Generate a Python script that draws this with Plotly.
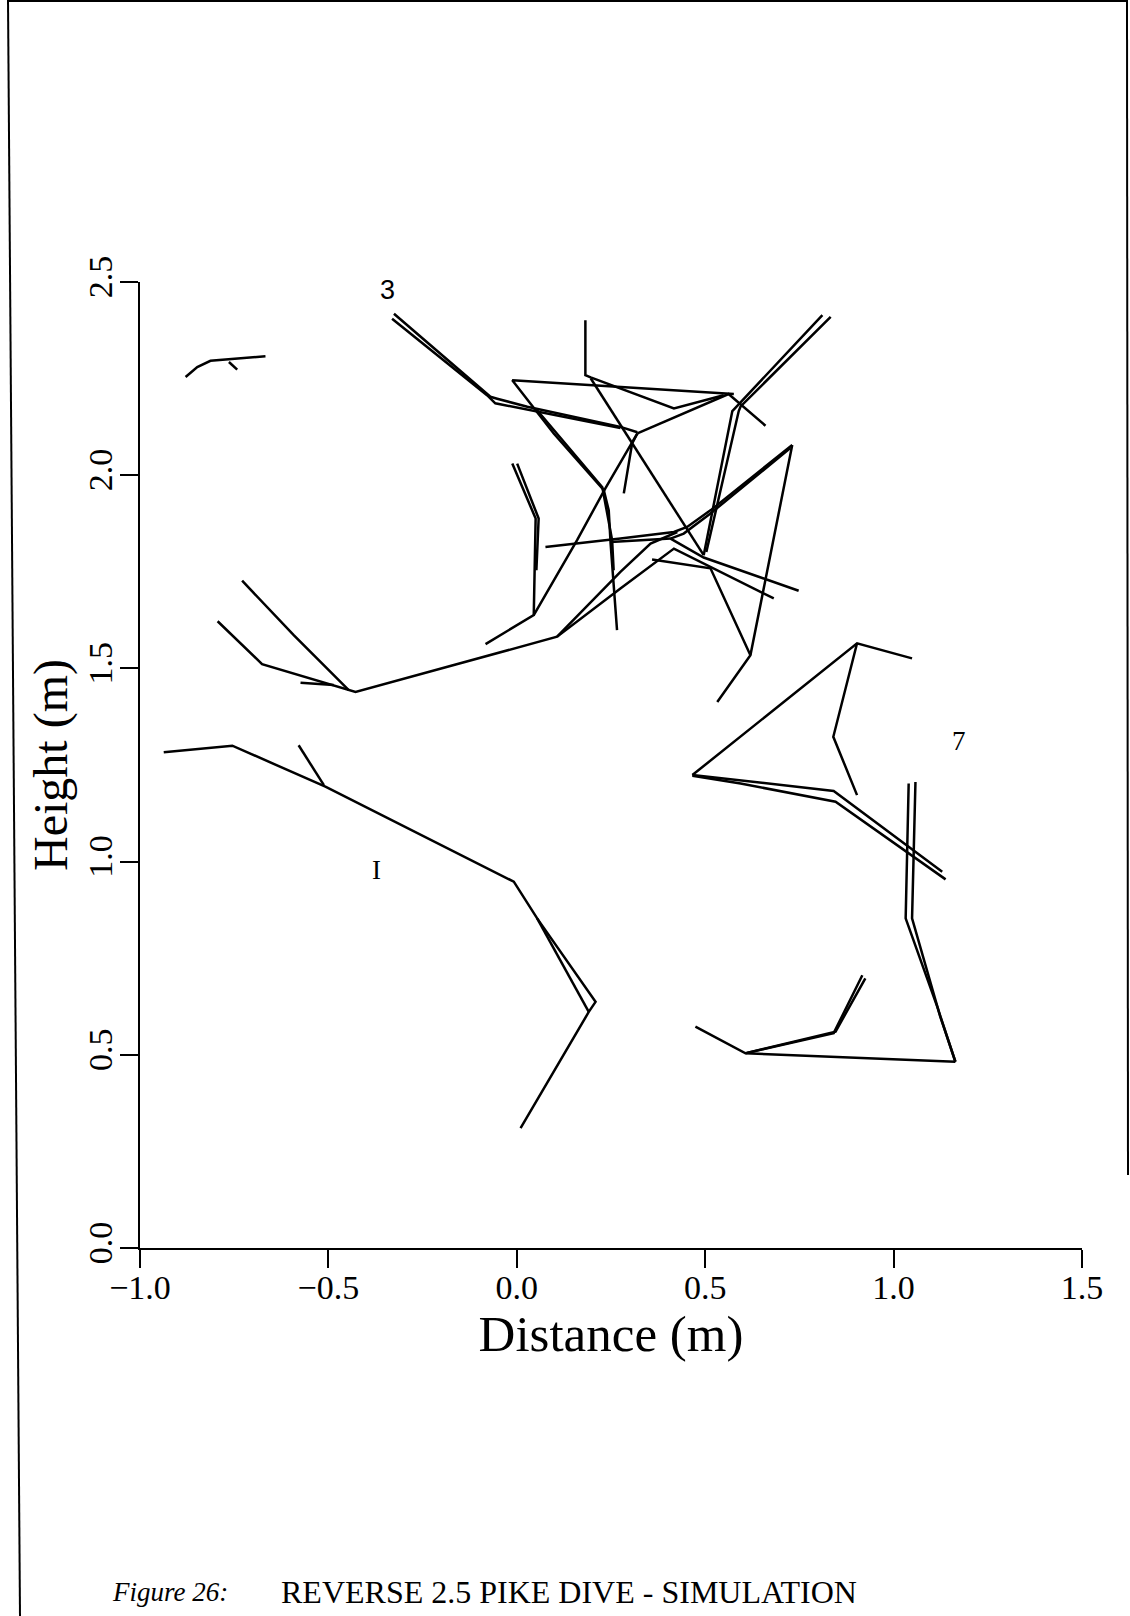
import plotly.graph_objects as go

# ---------------- page / layout geometry ----------------
W, H = 1130, 1616
ML, MR, MT, MB = 140, 48, 282, 368
PW = W - ML - MR
PH = H - MT - MB


def pxx(xp):
    return (xp - ML) / PW


def pxy(yp):
    return (H - MB - yp) / PH


# ---------------- axes ----------------
X_TICKS = [-1.0, -0.5, 0.0, 0.5, 1.0, 1.5]
X_TICK_LABELS = ["\u22121.0", "\u22120.5", "0.0", "0.5", "1.0", "1.5"]
Y_TICKS = [0.0, 0.5, 1.0, 1.5, 2.0, 2.5]
Y_TICK_LABELS = ["0.0", "0.5", "1.0", "1.5", "2.0", "2.5"]

# ---------------- stick-figure segments (metres) ----------------
arc_top_x = [-0.879, -0.848, -0.813, -0.760, -0.667]
arc_top_y = [2.254, 2.280, 2.296, 2.300, 2.308]
arc_tick_x = [-0.764, -0.742]
arc_tick_y = [2.293, 2.273]

f1_body_x = [-0.937, -0.755, -0.508, -0.008, 0.054, 0.209, 0.191, 0.010]
f1_body_y = [1.283, 1.300, 1.194, 0.948, 0.853, 0.637, 0.611, 0.310]
f1_leg_x = [0.054, 0.191]
f1_leg_y = [0.853, 0.611]
f1_arm_x = [-0.579, -0.512]
f1_arm_y = [1.301, 1.198]

f2_leg_x = [-0.729, -0.592, -0.446]
f2_leg_y = [1.727, 1.586, 1.444]
f2_body_x = [-0.794, -0.676, -0.428, 0.107, 0.275, 0.417, 0.682]
f2_body_y = [1.622, 1.511, 1.439, 1.582, 1.707, 1.810, 1.681]
f2_arm_x = [0.107, 0.275, 0.355, 0.426]
f2_arm_y = [1.582, 1.750, 1.823, 1.853]
f2_short_x = [-0.574, -0.486]
f2_short_y = [1.463, 1.457]

f3_leg1_x = [-0.326, -0.070, -0.052, 0.028, 0.275, 0.320]
f3_leg1_y = [2.418, 2.203, 2.198, 2.177, 2.125, 2.111]
f3_leg2_x = [-0.331, -0.079, -0.057, 0.010, 0.275]
f3_leg2_y = [2.405, 2.207, 2.186, 2.173, 2.122]
f3_trunk_x = [0.320, 0.562, 0.660]
f3_trunk_y = [2.108, 2.210, 2.128]
f3_head_x = [0.320, 0.306, 0.284]
f3_head_y = [2.108, 2.082, 1.953]
f3_arm_x = [0.320, 0.235, 0.160, 0.045]
f3_arm_y = [2.108, 1.966, 1.832, 1.638]

f4_top_x = [0.576, -0.012, 0.098, 0.231, 0.244, 0.249, 0.266]
f4_top_y = [2.210, 2.246, 2.108, 1.961, 1.909, 1.823, 1.599]
f4_top2_x = [0.054, 0.227, 0.253, 0.257]
f4_top2_y = [2.168, 1.969, 1.832, 1.754]
f4_vee_x = [0.182, 0.182, 0.196, 0.417, 0.549]
f4_vee_y = [2.401, 2.259, 2.253, 2.173, 2.207]
f4_diag_x = [0.196, 0.496]
f4_diag_y = [2.251, 1.793]

f5_leg1_x = [0.811, 0.585, 0.572, 0.496]
f5_leg1_y = [2.414, 2.181, 2.166, 1.793]
f5_leg2_x = [0.833, 0.594, 0.589, 0.503]
f5_leg2_y = [2.410, 2.178, 2.166, 1.801]
f5_right_x = [0.731, 0.620, 0.532]
f5_right_y = [2.078, 1.534, 1.413]
f5_mid_x = [0.359, 0.514, 0.620]
f5_mid_y = [1.782, 1.759, 1.534]
f5_bar1_x = [0.731, 0.514, 0.452, 0.417, 0.275, 0.076]
f5_bar1_y = [2.078, 1.909, 1.866, 1.853, 1.836, 1.814]
f5_bar2_x = [0.726, 0.514, 0.443, 0.408, 0.249]
f5_bar2_y = [2.070, 1.901, 1.849, 1.836, 1.827]
f5_arm_x = [0.408, 0.496, 0.748]
f5_arm_y = [1.836, 1.787, 1.701]

f6_leg1_x = [-0.012, 0.050, 0.045, -0.083]
f6_leg1_y = [2.030, 1.888, 1.638, 1.563]
f6_leg2_x = [0.001, 0.058, 0.052]
f6_leg2_y = [2.030, 1.888, 1.754]

f7_tri_x = [0.466, 0.903, 1.049]
f7_tri_y = [1.224, 1.565, 1.526]
f7_arm_x = [0.903, 0.840, 0.903]
f7_arm_y = [1.565, 1.323, 1.172]
f7_leg1_x = [0.466, 0.841, 1.129]
f7_leg1_y = [1.224, 1.183, 0.974]
f7_leg2_x = [0.466, 0.594, 0.846, 1.138]
f7_leg2_y = [1.222, 1.202, 1.155, 0.954]

f8_leg1_x = [1.040, 1.032, 1.116, 1.164]
f8_leg1_y = [1.202, 0.853, 0.624, 0.482]
f8_leg2_x = [1.058, 1.049, 1.124, 1.164]
f8_leg2_y = [1.206, 0.853, 0.598, 0.482]
f8_base_x = [1.164, 0.607, 0.474]
f8_base_y = [0.482, 0.504, 0.573]
f8_arm1_x = [0.607, 0.841, 0.917]
f8_arm1_y = [0.504, 0.556, 0.706]
f8_arm2_x = [0.611, 0.846, 0.925]
f8_arm2_y = [0.505, 0.560, 0.698]

SEGMENTS = [
    (arc_top_x, arc_top_y), (arc_tick_x, arc_tick_y),
    (f1_body_x, f1_body_y), (f1_leg_x, f1_leg_y), (f1_arm_x, f1_arm_y),
    (f2_leg_x, f2_leg_y), (f2_body_x, f2_body_y), (f2_arm_x, f2_arm_y),
    (f2_short_x, f2_short_y),
    (f3_leg1_x, f3_leg1_y), (f3_leg2_x, f3_leg2_y), (f3_trunk_x, f3_trunk_y),
    (f3_head_x, f3_head_y), (f3_arm_x, f3_arm_y),
    (f4_top_x, f4_top_y), (f4_top2_x, f4_top2_y), (f4_vee_x, f4_vee_y),
    (f4_diag_x, f4_diag_y),
    (f5_leg1_x, f5_leg1_y), (f5_leg2_x, f5_leg2_y), (f5_right_x, f5_right_y),
    (f5_mid_x, f5_mid_y), (f5_bar1_x, f5_bar1_y), (f5_bar2_x, f5_bar2_y),
    (f5_arm_x, f5_arm_y),
    (f6_leg1_x, f6_leg1_y), (f6_leg2_x, f6_leg2_y),
    (f7_tri_x, f7_tri_y), (f7_arm_x, f7_arm_y), (f7_leg1_x, f7_leg1_y),
    (f7_leg2_x, f7_leg2_y),
    (f8_leg1_x, f8_leg1_y), (f8_leg2_x, f8_leg2_y), (f8_base_x, f8_base_y),
    (f8_arm1_x, f8_arm1_y), (f8_arm2_x, f8_arm2_y),
]

# frame labels
LABEL_TEXT = ["3", "7", "I"]
LABEL_X = [-0.342, 1.173, -0.372]
LABEL_Y = [2.480, 1.313, 0.978]

fig = go.Figure()
for sx, sy in SEGMENTS:
    fig.add_trace(go.Scatter(
        x=sx, y=sy, mode="lines",
        line=dict(color="black", width=2.5),
        showlegend=False, hoverinfo="skip",
    ))

SERIF = "Liberation Serif, Times New Roman, serif"
label_fonts = ["Liberation Sans, Arial, sans-serif", SERIF, SERIF]
for t, lx, ly, fam in zip(LABEL_TEXT, LABEL_X, LABEL_Y, label_fonts):
    fig.add_annotation(x=lx, y=ly, text=t, showarrow=False,
                       font=dict(family=fam, size=27, color="black"),
                       xanchor="center", yanchor="middle")

# caption
fig.add_annotation(xref="paper", yref="paper", x=pxx(110), y=pxy(1592),
                   text="<i>Figure 26:</i>", showarrow=False,
                   xanchor="left", yanchor="middle",
                   font=dict(family=SERIF, size=27, color="black"))
fig.add_annotation(xref="paper", yref="paper", x=pxx(279), y=pxy(1592),
                   text="REVERSE 2.5 PIKE DIVE - SIMULATION", showarrow=False,
                   xanchor="left", yanchor="middle",
                   font=dict(family=SERIF, size=32, color="black"))

# scanned page border
border = dict(color="black", width=2)
fig.add_shape(type="line", xref="paper", yref="paper",
              x0=pxx(8), y0=pxy(0), x1=pxx(20), y1=pxy(H), line=border)
fig.add_shape(type="line", xref="paper", yref="paper",
              x0=pxx(8), y0=pxy(1), x1=pxx(1128), y1=pxy(1), line=border)
fig.add_shape(type="line", xref="paper", yref="paper",
              x0=pxx(1127), y0=pxy(0), x1=pxx(1128), y1=pxy(1175), line=border)

axis_common = dict(
    showgrid=False, zeroline=False, showline=True,
    linecolor="black", linewidth=2,
    ticks="outside", ticklen=18, tickwidth=2, tickcolor="black",
    tickfont=dict(family=SERIF, size=34, color="black"),
    tickmode="array",
)

fig.update_layout(
    width=W, height=H, autosize=False,
    margin=dict(l=ML, r=MR, t=MT, b=MB),
    paper_bgcolor="white", plot_bgcolor="white",
    showlegend=False,
    xaxis=dict(range=[-1.0, 1.5], tickvals=X_TICKS, ticktext=X_TICK_LABELS,
               title=dict(text="Distance (m)", standoff=4,
                          font=dict(family=SERIF, size=51, color="black")),
               ticklabelstandoff=-10,
               **axis_common),
    yaxis=dict(range=[0.0, 2.5], tickvals=Y_TICKS, ticktext=Y_TICK_LABELS,
               tickangle=-90,
               title=dict(text="Height (m)", standoff=0,
                          font=dict(family=SERIF, size=48, color="black")),
               ticklabelstandoff=-6,
               **axis_common),
)

fig.write_html("out.html")
